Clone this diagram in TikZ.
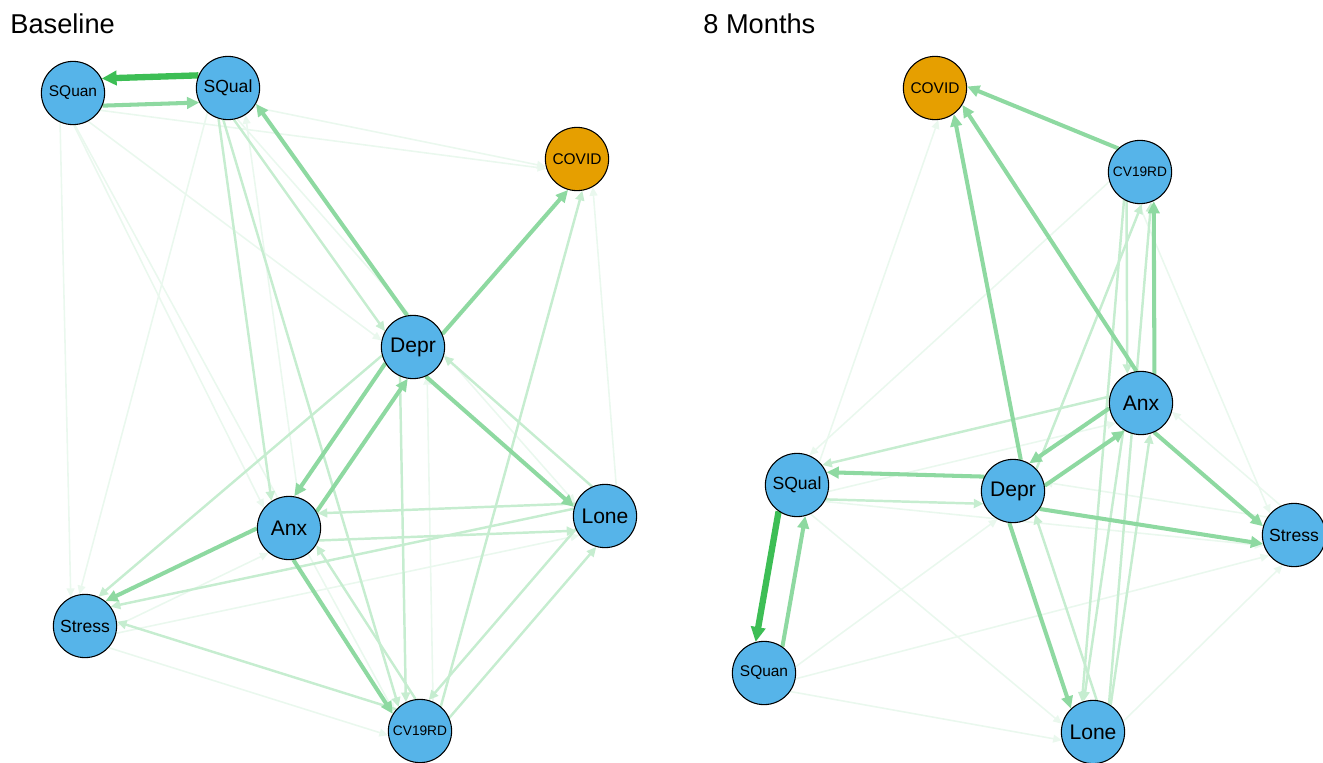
\documentclass[tikz,border=0pt]{standalone}
\usepackage{fontspec}
\setmainfont{Liberation Sans}
\usetikzlibrary{arrows.meta,calc,backgrounds}

\definecolor{nodeblue}{HTML}{56B4E9}
\definecolor{covorange}{HTML}{E69F00}
\definecolor{edgedark}{HTML}{3DBE55}
\definecolor{edgemid}{HTML}{8ED9A1}
\definecolor{edgelight}{HTML}{C6EDD0}
\definecolor{edgefaint}{HTML}{EAF8EE}

\begin{document}
\begin{tikzpicture}[x=0.02cm, y=-0.02cm,
	var/.style={circle, draw, fill=nodeblue, line width=0.6pt, minimum size=36pt, inner sep=0pt},
	cov/.style={var, fill=covorange},
	big/.style={font=\fontsize{12}{12}\selectfont},
	mid/.style={font=\fontsize{10}{10}\selectfont},
	sml/.style={font=\fontsize{8.8}{9}\selectfont},
	tny/.style={font=\fontsize{7.8}{8}\selectfont},
	pair/.style={to path={($(\tikztostart.center)!18.3pt!-25:(\tikztotarget.center)$) -- ($(\tikztotarget.center)!18.3pt!25:(\tikztostart.center)$)}},
	dk/.style={pair, draw=edgedark, line width=3.6pt, -{Triangle[length=8.5pt,width=8pt]}},
	md/.style={pair, draw=edgemid, line width=2.3pt, -{Triangle[length=7pt,width=6.5pt]}},
	lt/.style={pair, draw=edgelight, line width=1.4pt, -{Triangle[length=5.5pt,width=5pt]}},
	ft/.style={pair, draw=edgefaint, line width=0.9pt, -{Triangle[length=5pt,width=4.5pt]}}]
	\useasboundingbox (0,0) rectangle (1323,762);
	\node [anchor=base west, inner sep=0pt, font=\fontsize{15.5}{16}\selectfont] (titleA) at (10,33) {Baseline};
	\node [anchor=base west, inner sep=0pt, font=\fontsize{15.5}{16}\selectfont] (titleB) at (703,33) {8 Months};
	% Baseline
	\node [var, sml] (SQuanA) at (73,93) {SQuan};
	\node [var, mid] (SQualA) at (228,88) {SQual};
	\node [cov, sml] (COVIDA) at (577,159) {COVID};
	\node [var, big] (DeprA) at (413,347) {Depr};
	\node [var, big] (AnxA) at (289,528) {Anx};
	\node [var, big] (LoneA) at (605,516) {Lone};
	\node [var, mid] (StressA) at (85,626) {Stress};
	\node [var, tny] (CVA) at (420,731) {CV19RD};
	% 8 Months
	\node [cov, sml] (COVIDB) at (935,88) {COVID};
	\node [var, tny] (CVB) at (1140,172) {CV19RD};
	\node [var, big] (AnxB) at (1141,403) {Anx};
	\node [var, mid] (SQualB) at (797,485) {SQual};
	\node [var, big] (DeprB) at (1013,491) {Depr};
	\node [var, mid] (StressB) at (1294,535) {Stress};
	\node [var, sml] (SQuanB) at (764,673) {SQuan};
	\node [var, big] (LoneB) at (1093,732) {Lone};
	\begin{scope}[on background layer]
		% faint edges first
		\draw[ft] (StressA) to (AnxA);
		\draw[ft] (StressA) to (CVA);
		\draw[ft] (CVA) to (DeprA);
		\draw[ft] (LoneA) to (COVIDA);
		\draw[ft] (AnxA) to (SQualA);
		\draw[ft] (SQualA) to (COVIDA);
		\draw[ft] (SQuanA) to (COVIDA);
		\draw[ft] (SQuanA) to (DeprA);
		\draw[ft] (SQuanA) to (AnxA);
		\draw[ft] (SQuanA) to (StressA);
		\draw[ft] (SQuanA) to (CVA);
		\draw[ft] (SQualA) to (StressA);
		\draw[ft] (SQualA) to (LoneA);
		\draw[ft] (StressA) to (LoneA);
		\draw[ft] (StressB) to (DeprB);
		\draw[ft] (CVB) to (StressB);
		\draw[ft] (StressB) to (AnxB);
		\draw[ft] (SQualB) to (COVIDB);
		\draw[ft] (CVB) to (SQualB);
		\draw[ft] (LoneB) to (StressB);
		\draw[ft] (SQuanB) to (LoneB);
		\draw[ft] (SQuanB) to (DeprB);
		\draw[ft] (SQualB) to (LoneB);
		\draw[ft] (SQuanB) to (StressB);
		\draw[ft] (SQualB) to (StressB);
		\draw[ft] (SQualB) to (AnxB);
		% light edges
		\draw[lt] (SQualA) to (DeprA);
		\draw[lt] (LoneA) to (DeprA);
		\draw[lt] (DeprA) to (StressA);
		\draw[lt] (CVA) to (AnxA);
		\draw[lt] (AnxA) to (LoneA);
		\draw[lt] (LoneA) to (AnxA);
		\draw[lt] (LoneA) to (StressA);
		\draw[lt] (CVA) to (StressA);
		\draw[lt] (DeprA) to (CVA);
		\draw[lt] (LoneA) to (CVA);
		\draw[lt] (CVA) to (LoneA);
		\draw[lt] (CVA) to (COVIDA);
		\draw[lt] (SQualA) to (AnxA);
		\draw[lt] (SQualA) to (CVA);
		\draw[lt] (SQualB) to (DeprB);
		\draw[lt] (LoneB) to (DeprB);
		\draw[lt] (CVB) to (AnxB);
		\draw[lt] (DeprB) to (CVB);
		\draw[lt] (LoneB) to (CVB);
		\draw[lt] (CVB) to (LoneB);
		\draw[lt] (AnxB) to (LoneB);
		\draw[lt] (LoneB) to (AnxB);
		\draw[lt] (AnxB) to (SQualB);
		% medium edges
		\draw[md] (SQuanA) to (SQualA);
		\draw[md] (DeprA) to (SQualA);
		\draw[md] (DeprA) to (COVIDA);
		\draw[md] (DeprA) to (AnxA);
		\draw[md] (AnxA) to (DeprA);
		\draw[md] (DeprA) to (LoneA);
		\draw[md] (AnxA) to (StressA);
		\draw[md] (AnxA) to (CVA);
		\draw[md] (SQuanB) to (SQualB);
		\draw[md] (DeprB) to (SQualB);
		\draw[md] (AnxB) to (DeprB);
		\draw[md] (DeprB) to (AnxB);
		\draw[md] (AnxB) to (StressB);
		\draw[md] (DeprB) to (StressB);
		\draw[md] (DeprB) to (LoneB);
		\draw[md] (AnxB) to (CVB);
		\draw[md] (CVB) to (COVIDB);
		\draw[md] (AnxB) to (COVIDB);
		\draw[md] (DeprB) to (COVIDB);
		% strongest edges
		\draw[dk] (SQualA) to (SQuanA);
		\draw[dk] (SQualB) to (SQuanB);
	\end{scope}
\end{tikzpicture}
\end{document}
